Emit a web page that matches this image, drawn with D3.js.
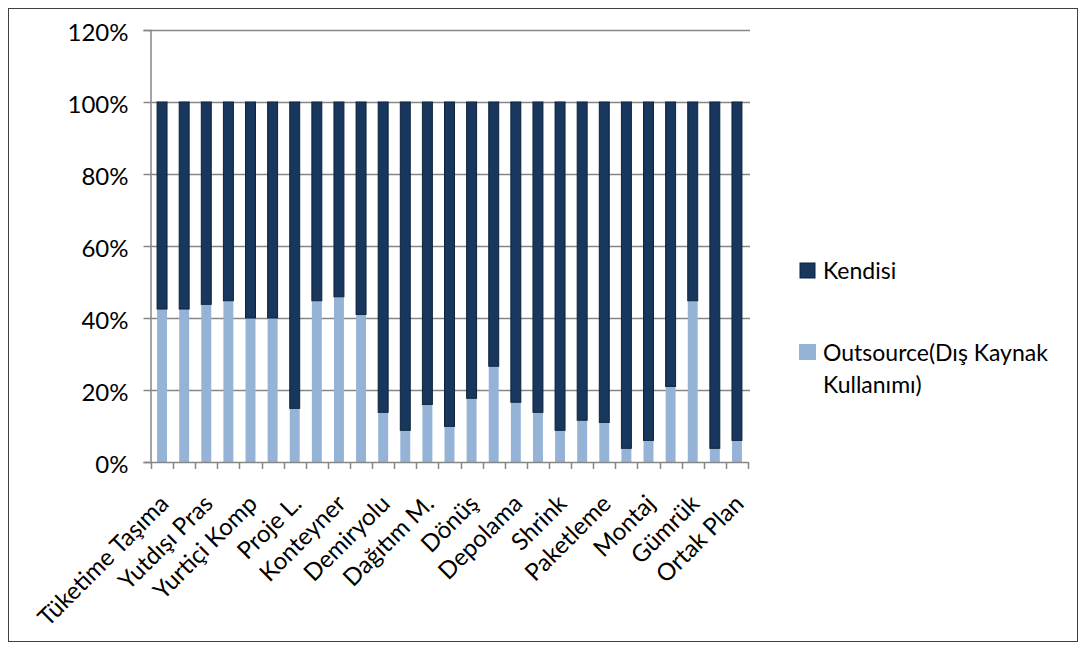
<!DOCTYPE html>
<html>
<head>
<meta charset="utf-8">
<script src="https://cdn.jsdelivr.net/npm/d3@7"></script>
<style>
  body { margin: 0; background: #fff; }
  svg text { font-family: Lato, "Open Sans", sans-serif; fill: #000; }
</style>
</head>
<body>
<div id="chart"></div>
<script>
// categories (only every other one is labelled on the axis, as in the original)
const categories = [
  "Tüketime Taşıma", "Kategori 2", "Yutdışı Pras", "Kategori 4", "Yurtiçi Komp",
  "Kategori 6", "Proje L.", "Kategori 8", "Konteyner", "Kategori 10",
  "Demiryolu", "Kategori 12", "Dağıtım M.", "Kategori 14", "Dönüş",
  "Kategori 16", "Depolama", "Kategori 18", "Shrink", "Kategori 20",
  "Paketleme", "Kategori 22", "Montaj", "Kategori 24", "Gümrük",
  "Kategori 26", "Ortak Plan"
];
// share of outsourcing
const outsource = [
  0.425, 0.425, 0.438, 0.448, 0.40, 0.40, 0.149, 0.448, 0.459, 0.41,
  0.138, 0.088, 0.16, 0.099, 0.177, 0.266, 0.166, 0.138, 0.088, 0.116,
  0.11, 0.038, 0.06, 0.21, 0.448, 0.038, 0.06
];
const kendisi = outsource.map(v => 1 - v);
const yTicks = [0, 0.2, 0.4, 0.6, 0.8, 1.0, 1.2];
const seriesNames = ["Kendisi", "Outsource(Dış Kaynak", "Kullanımı)"];

const width = 1086, height = 650;
const colDark = "#17375e", colLight = "#95b3d7";

const svg = d3.select("#chart").append("svg")
  .attr("width", width)
  .attr("height", height);

// outer border
svg.append("rect")
  .attr("x", 8.5).attr("y", 8.5)
  .attr("width", 1069).attr("height", 633)
  .attr("fill", "none").attr("stroke", "#404040").attr("stroke-width", 1);

const x = d3.scaleBand().domain(categories).range([151, 748]).paddingInner(0.55).paddingOuter(0.275);
const xStep = d3.scaleBand().domain(categories).range([151, 748]);
const y = d3.scaleLinear().domain([0, 1.2]).range([462, 30]);

// gridlines
svg.append("g")
  .selectAll("line")
  .data(yTicks.filter(d => d > 0))
  .join("line")
  .attr("x1", 150).attr("x2", 750)
  .attr("y1", d => Math.round(y(d)) + 0.5)
  .attr("y2", d => Math.round(y(d)) + 0.5)
  .attr("stroke", "#868686").attr("stroke-width", 1.5);

// y axis
const yAxis = svg.append("g")
  .attr("transform", "translate(150.5,0)")
  .call(d3.axisLeft(y).tickValues(yTicks).tickFormat(d3.format(".0%")).tickSize(7).tickPadding(15));
yAxis.select(".domain").attr("stroke", "#868686").attr("stroke-width", 1.5);
yAxis.selectAll(".tick line").attr("stroke", "#868686").attr("stroke-width", 1.5);
yAxis.selectAll("text").style("font-size", "24px").attr("dy", "0.42em");

// bars: outsource at bottom, kendisi stacked above
svg.append("g")
  .selectAll("rect")
  .data(categories)
  .join("rect")
  .attr("x", d => x(d))
  .attr("width", x.bandwidth())
  .attr("y", (d, i) => y(outsource[i]))
  .attr("height", (d, i) => y(0) - y(outsource[i]))
  .attr("fill", colLight);

svg.append("g")
  .selectAll("rect")
  .data(categories)
  .join("rect")
  .attr("x", d => x(d))
  .attr("width", x.bandwidth())
  .attr("y", (d, i) => y(outsource[i] + kendisi[i]))
  .attr("height", (d, i) => y(outsource[i]) - y(outsource[i] + kendisi[i]))
  .attr("fill", colDark)
  .attr("stroke", "#0e2238").attr("stroke-width", 1);

// x axis line and ticks at category boundaries
const xg = svg.append("g");
xg.append("line")
  .attr("x1", 150).attr("x2", 748)
  .attr("y1", 462.5).attr("y2", 462.5)
  .attr("stroke", "#868686").attr("stroke-width", 1.5);
xg.selectAll("line.tk")
  .data(categories.concat(["end"]))
  .join("line")
  .attr("class", "tk")
  .attr("x1", (d, i) => Math.round(151 + i * xStep.step()) + 0.5)
  .attr("x2", (d, i) => Math.round(151 + i * xStep.step()) + 0.5)
  .attr("y1", 462).attr("y2", 469)
  .attr("stroke", "#868686").attr("stroke-width", 1.5);

// category labels, every other one
xg.selectAll("text")
  .data(categories.filter((d, i) => i % 2 === 0))
  .join("text")
  .attr("transform", d => `translate(${x(d) + x.bandwidth() / 2 - 2},${495}) rotate(-45)`)
  .attr("text-anchor", "end")
  .attr("dy", "0.6em")
  .style("font-size", "24px")
  .text(d => d);

// legend
const lg = svg.append("g");
lg.append("rect").attr("x", 800).attr("y", 263).attr("width", 15).attr("height", 15)
  .attr("fill", colDark).attr("stroke", "#0e2238");
lg.append("text").attr("x", 823).attr("y", 279).style("font-size", "23px").text(seriesNames[0]);
lg.append("rect").attr("x", 799).attr("y", 344).attr("width", 17).attr("height", 16)
  .attr("fill", colLight);
lg.append("text").attr("x", 823).attr("y", 361).style("font-size", "23px").text(seriesNames[1]);
lg.append("text").attr("x", 823).attr("y", 393).style("font-size", "23px").text(seriesNames[2]);
</script>
</body>
</html>
